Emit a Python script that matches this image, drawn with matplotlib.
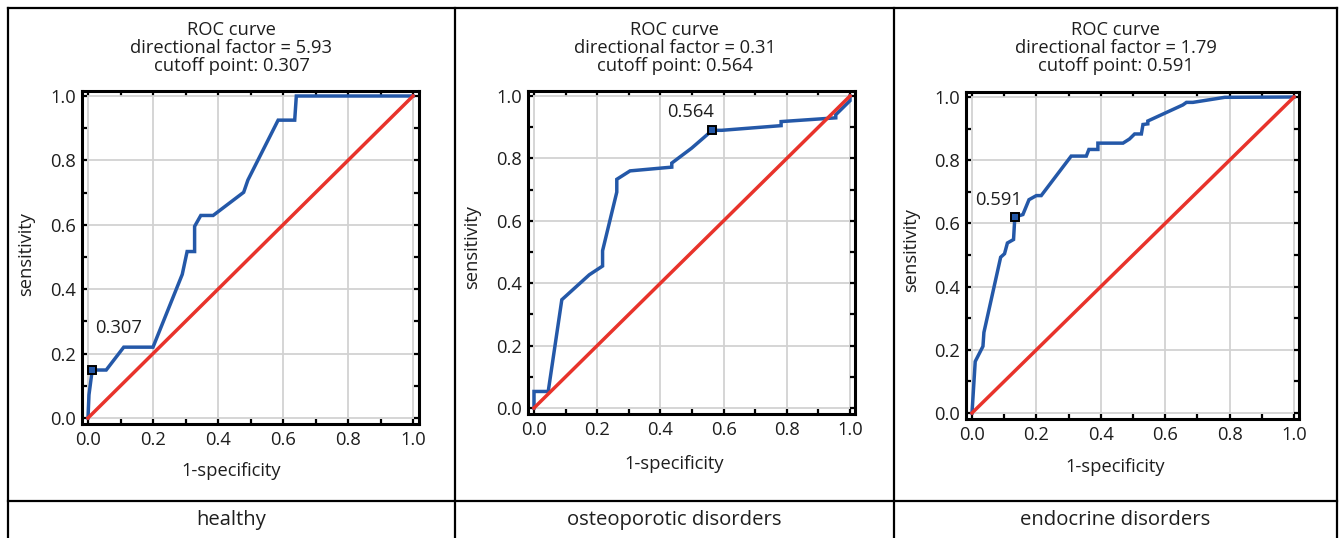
import matplotlib
matplotlib.use("Agg")
import matplotlib.pyplot as plt
from matplotlib.lines import Line2D
from matplotlib.ticker import MultipleLocator

plt.rcParams['font.family'] = ['Open Sans', 'DejaVu Sans']

# ---------------- data ----------------
groups = ["healthy", "osteoporotic disorders", "endocrine disorders"]
directional_factors = ["5.93", "0.31", "1.79"]
cutoff_labels = ["0.307", "0.564", "0.591"]
tick_values = [0.0, 0.2, 0.4, 0.6, 0.8, 1.0]
tick_labels = ["0.0", "0.2", "0.4", "0.6", "0.8", "1.0"]

healthy_fpr = [0.0, 0.003, 0.013, 0.056, 0.11, 0.2, 0.29, 0.305, 0.328, 0.328, 0.347,
               0.385, 0.479, 0.492, 0.585, 0.636, 0.641, 1.0]
healthy_tpr = [0.0, 0.072, 0.149, 0.149, 0.22, 0.22, 0.446, 0.517, 0.517, 0.595, 0.629,
               0.629, 0.701, 0.739, 0.925, 0.925, 1.0, 1.0]
healthy_cut = (0.013, 0.149)

osteo_fpr = [0.0, 0.0, 0.045, 0.088, 0.175, 0.217, 0.217, 0.262, 0.262, 0.304, 0.436,
             0.436, 0.499, 0.564, 0.594, 0.782, 0.782, 0.955, 0.955, 1.0, 1.0]
osteo_tpr = [0.0, 0.053, 0.053, 0.347, 0.427, 0.455, 0.504, 0.692, 0.733, 0.76, 0.772,
             0.785, 0.833, 0.89, 0.89, 0.905, 0.918, 0.93, 0.94, 0.985, 1.0]
osteo_cut = (0.564, 0.89)

endo_fpr = [0.0, 0.01, 0.034, 0.037, 0.089, 0.101, 0.11, 0.129, 0.133, 0.158, 0.177,
            0.2, 0.215, 0.308, 0.355, 0.363, 0.391, 0.391, 0.469, 0.489, 0.505, 0.526,
            0.531, 0.546, 0.546, 0.655, 0.666, 0.686, 0.785, 1.0]
endo_tpr = [0.0, 0.163, 0.211, 0.255, 0.493, 0.504, 0.538, 0.549, 0.62, 0.628, 0.675,
            0.688, 0.688, 0.813, 0.813, 0.834, 0.834, 0.854, 0.854, 0.867, 0.883, 0.883,
            0.913, 0.915, 0.924, 0.975, 0.983, 0.983, 0.999, 1.0]
endo_cut = (0.133, 0.62)

curves_fpr = [healthy_fpr, osteo_fpr, endo_fpr]
curves_tpr = [healthy_tpr, osteo_tpr, endo_tpr]
cutoffs = [healthy_cut, osteo_cut, endo_cut]

# ---------------- layout ----------------
W, H = 1339, 538
fig = plt.figure(figsize=(W / 100, H / 100), dpi=100)

# pixel positions of data 0 and 1 on each axes: (x0, x1, y0, y1)
px = [(88, 413, 418, 96), (534, 850, 408, 96), (972, 1294, 413, 97)]
cells = [(8, 455), (455, 894), (894, 1337)]
cut_text_pos = [(0.093, 0.28), (0.497, 0.95), (0.081, 0.674)]
xlab_y = [471, 464, 467]
ylab_xy = [(26, 254), (472, 247), (911, 250)]
LIM = (-0.019, 1.017)

BLUE = '#2458a8'
RED = '#e8332b'
GRID = '#d2d2d2'
TXT = '#1e1e1e'
FS = 13.2

for i in range(3):
    x0, x1, y0, y1 = px[i]
    ux = x1 - x0
    uy = y0 - y1
    left = x0 + LIM[0] * ux
    right = x0 + LIM[1] * ux
    top = y0 - LIM[1] * uy
    bottom = y0 - LIM[0] * uy
    ax = fig.add_axes([left / W, 1 - bottom / H, (right - left) / W, (bottom - top) / H])
    ax.set_xlim(*LIM)
    ax.set_ylim(*LIM)
    ax.xaxis.set_minor_locator(MultipleLocator(0.1))
    ax.yaxis.set_minor_locator(MultipleLocator(0.1))
    ax.set_xticks(tick_values)
    ax.set_yticks(tick_values)
    ax.set_xticklabels(tick_labels)
    ax.set_yticklabels(tick_labels)
    ax.grid(True, which='major', color=GRID, linewidth=1.3, zorder=0)
    ax.set_axisbelow(True)
    ax.tick_params(which='both', direction='in', top=True, right=True,
                   length=3.5, width=1.6, color='black', labelsize=FS,
                   labelcolor=TXT)
    ax.tick_params(axis='x', pad=5)
    ax.tick_params(axis='y', pad=4)
    for s in ax.spines.values():
        s.set_linewidth(2.2)
        s.set_color('black')

    ax.plot(curves_fpr[i], curves_tpr[i], color=BLUE, linewidth=2.5,
            solid_joinstyle='miter', zorder=3)
    ax.plot([0, 1], [0, 1], color=RED, linewidth=2.5, zorder=4)
    cx, cy = cutoffs[i]
    ax.plot([cx], [cy], marker='s', markersize=5.5, markerfacecolor=BLUE,
            markeredgecolor='black', markeredgewidth=1.4, zorder=5)
    tx, ty = cut_text_pos[i]
    ax.text(tx, ty, cutoff_labels[i], ha='center', va='center', fontsize=FS,
            color=TXT, zorder=6)

    cxc = (cells[i][0] + cells[i][1]) / 2 / W
    fig.text(cxc, 1 - 48 / H,
             "ROC curve\ndirectional factor = %s\ncutoff point: %s"
             % (directional_factors[i], cutoff_labels[i]),
             ha='center', va='center', fontsize=FS, color=TXT, linespacing=1.03)
    fig.text(cxc, 1 - xlab_y[i] / H, "1-specificity", ha='center', va='center',
             fontsize=FS, color=TXT)
    lx, ly = ylab_xy[i]
    fig.text(lx / W, 1 - ly / H, "sensitivity", rotation=90, ha='center',
             va='center', fontsize=FS, color=TXT)
    fig.text(cxc, 1 - 520 / H, groups[i], ha='center', va='center', fontsize=14.6,
             color=TXT)

# table lines
lw = 1.6
def hline(y, xa, xb):
    fig.add_artist(Line2D([xa / W, xb / W], [1 - y / H, 1 - y / H], color='black',
                          linewidth=lw, transform=fig.transFigure))
def vline(x, ya, yb):
    fig.add_artist(Line2D([x / W, x / W], [1 - ya / H, 1 - yb / H], color='black',
                          linewidth=lw, transform=fig.transFigure))

hline(7.5, 8, 1337)
hline(501, 8, 1337)
for x in [8, 455, 894, 1337]:
    vline(x, 7.5, 538)

fig.savefig("out.png", dpi=100)
